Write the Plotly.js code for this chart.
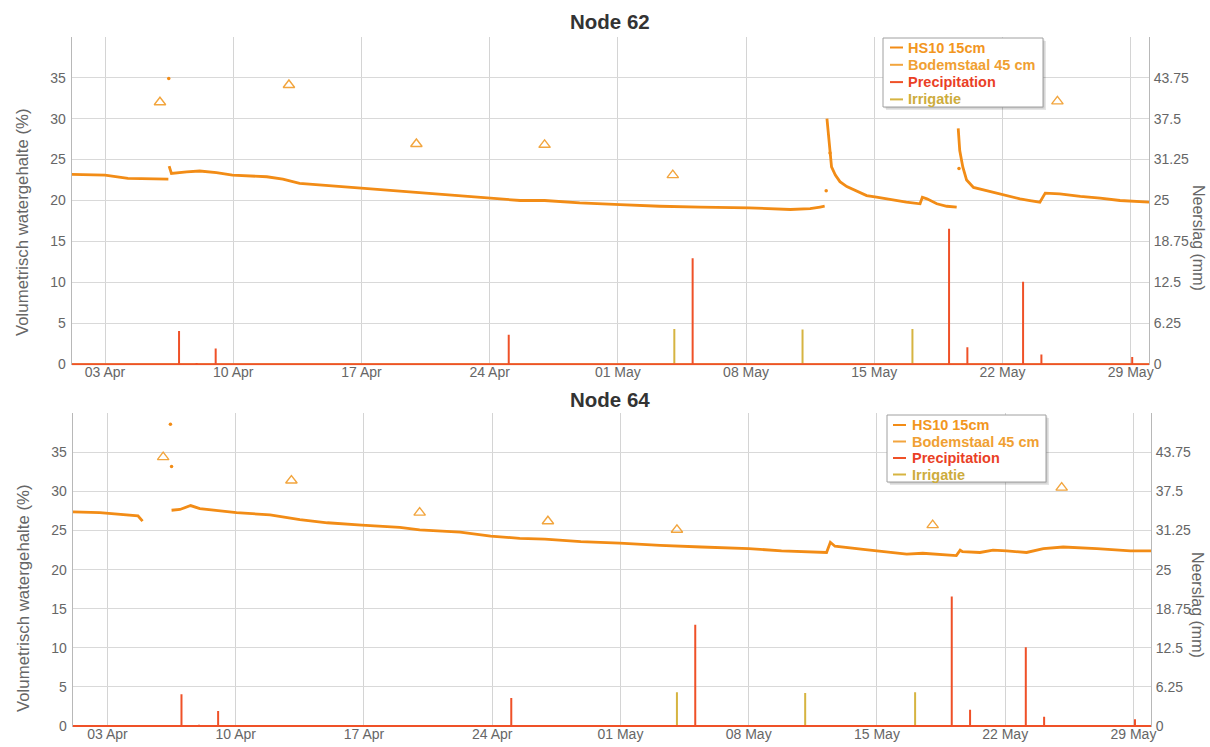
<!DOCTYPE html>
<html>
<head>
<meta charset="utf-8">
<script src="https://cdn.plot.ly/plotly-3.0.1.min.js"></script>
<style>html,body{margin:0;padding:0;background:#fff;}#chart{width:1210px;height:747px;}</style>
</head>
<body>
<div id="chart"></div>
<script>
// ---------------- DATA ----------------
// Node 62 - HS10 15cm (Volumetrisch watergehalte %)
const n62Time = ['2017-04-01 04:20','2017-04-03 00:00','2017-04-04 06:00','2017-04-06 11:00',null,
  '2017-04-06 12:00','2017-04-06 15:00','2017-04-07 11:00','2017-04-08 04:00','2017-04-09 02:00','2017-04-09 23:00',
  '2017-04-11 20:00','2017-04-12 17:00','2017-04-13 15:00','2017-04-17 01:00','2017-04-20 05:00','2017-04-22 09:00',
  '2017-04-24 02:00','2017-04-25 16:00','2017-04-27 00:00','2017-04-28 22:00','2017-05-01 03:00','2017-05-03 07:00',
  '2017-05-05 12:00','2017-05-08 04:00','2017-05-10 10:00','2017-05-11 12:00','2017-05-12 01:00','2017-05-12 07:00',null,
  '2017-05-12 10:00','2017-05-12 12:00','2017-05-12 16:00','2017-05-12 21:00','2017-05-13 03:00','2017-05-13 12:00',
  '2017-05-14 01:00','2017-05-14 14:00','2017-05-15 03:00','2017-05-15 21:00','2017-05-16 18:00','2017-05-17 12:00',
  '2017-05-17 15:00','2017-05-17 21:00','2017-05-18 10:00','2017-05-18 23:00','2017-05-19 12:00',null,
  '2017-05-19 14:00','2017-05-19 16:00','2017-05-19 20:00','2017-05-20 01:00','2017-05-20 10:00','2017-05-21 03:00',
  '2017-05-21 21:00','2017-05-22 14:00','2017-05-22 23:00','2017-05-23 12:00','2017-05-24 01:00','2017-05-24 08:00',
  '2017-05-25 03:00','2017-05-26 06:00','2017-05-27 08:00','2017-05-28 10:00','2017-05-30 00:00'];
const n62Hs10 = [23.2,23.1,22.7,22.6,null,
  24.2,23.3,23.5,23.6,23.4,23.1,
  22.9,22.6,22.1,21.5,21.0,20.6,
  20.3,20.0,20.0,19.7,19.5,19.3,
  19.2,19.1,18.9,19.0,19.2,19.3,null,
  30.0,28.2,24.1,23.1,22.3,21.7,
  21.2,20.6,20.4,20.1,19.8,19.6,
  20.4,20.2,19.6,19.3,19.2,null,
  28.8,26.1,24.1,22.5,21.6,21.2,
  20.8,20.4,20.2,20.0,19.8,20.9,
  20.8,20.5,20.3,20.0,19.8];
const n62OutTime = ['2017-04-06 11:30','2017-05-12 09:00','2017-05-12 14:00','2017-05-19 15:00'];
const n62OutVal  = [34.9, 21.2, 25.8, 23.9];
// Node 62 - Bodemstaal 45 cm
const n62SoilTime = ['2017-04-06 00:00','2017-04-13 01:00','2017-04-20 00:00','2017-04-27 00:00','2017-05-04 00:00','2017-05-25 00:00'];
const n62SoilVal  = [32.0, 34.1, 26.9, 26.8, 23.1, 32.1];

// Node 64 - HS10 15cm
const n64Time = ['2017-04-01 02:30','2017-04-02 14:00','2017-04-04 16:00','2017-04-04 22:00',null,
  '2017-04-06 12:00','2017-04-06 23:00','2017-04-07 13:00','2017-04-08 01:00','2017-04-10 01:00','2017-04-11 21:00',
  '2017-04-13 12:00','2017-04-15 00:00','2017-04-16 21:00','2017-04-18 23:00','2017-04-20 01:00','2017-04-22 06:00',
  '2017-04-23 22:00','2017-04-25 12:00','2017-04-26 21:00','2017-04-28 20:00','2017-04-30 23:00','2017-05-03 04:00',
  '2017-05-05 10:00','2017-05-08 00:00','2017-05-09 19:00','2017-05-11 12:00','2017-05-12 06:00','2017-05-12 11:00',
  '2017-05-12 17:00','2017-05-14 06:00','2017-05-15 04:00','2017-05-16 15:00','2017-05-17 12:00','2017-05-18 11:00',
  '2017-05-19 08:00','2017-05-19 13:00','2017-05-19 16:00','2017-05-20 15:00','2017-05-21 08:00','2017-05-22 02:00',
  '2017-05-23 04:00','2017-05-24 02:00','2017-05-25 04:00','2017-05-27 00:00','2017-05-28 20:00','2017-05-29 23:00'];
const n64Hs10 = [27.4,27.3,26.9,26.2,null,
  27.6,27.7,28.2,27.8,27.3,27.0,
  26.4,26.0,25.7,25.4,25.1,24.8,
  24.3,24.0,23.9,23.6,23.4,23.1,
  22.9,22.7,22.4,22.3,22.2,23.5,
  23.0,22.6,22.4,22.0,22.1,21.9,
  21.8,22.5,22.3,22.2,22.5,22.4,
  22.2,22.7,22.9,22.7,22.4,22.4];
const n64OutTime = ['2017-04-06 10:30','2017-04-06 12:00'];
const n64OutVal  = [38.6, 33.2];
// Node 64 - Bodemstaal 45 cm
const n64SoilTime = ['2017-04-06 01:00','2017-04-13 01:00','2017-04-20 01:00','2017-04-27 01:00','2017-05-04 02:00','2017-05-18 01:00','2017-05-25 02:00'];
const n64SoilVal  = [34.4, 31.4, 27.3, 26.2, 25.1, 25.7, 30.5];

// Precipitation and irrigation (mm), shared by both nodes
const rainTime = ['2017-04-07 01:00','2017-04-08 00:00','2017-04-09 01:00','2017-04-25 01:00','2017-05-05 02:00',
  '2017-05-19 02:00','2017-05-20 02:00','2017-05-23 03:00','2017-05-24 03:00','2017-05-29 02:00'];
const rainMm = [5.1, 0.2, 2.4, 4.5, 16.2, 20.7, 2.6, 12.6, 1.5, 1.1];
const irrTime = ['2017-05-04 02:00','2017-05-11 02:00','2017-05-17 02:00'];
const irrMm = [5.4, 5.3, 5.4];

const leftTicks = [0,5,10,15,20,25,30,35];
const rightTicks = [0,6.25,12.5,18.75,25,31.25,37.5,43.75];
const rightTickText = ['0','6.25','12.5','18.75','25','31.25','37.5','43.75'];
const seriesNames = ['HS10 15cm','Bodemstaal 45 cm','Precipitation','Irrigatie'];
const panelTitles = ['Node 62','Node 64'];

// ---------------- STYLE ----------------
const W = 1210, H = 747;
const FONT = 'Liberation Sans, Arial, sans-serif';
const C_HS = '#f28c16', C_SOIL = '#f2a53e', C_RAIN = '#ef5128', C_IRR = '#d6b441';
const LEG_COL = ['#f2961e','#f0a032','#ea3f26','#cdac3c'];
const px = x => x / W, py = y => 1 - y / H;

function spikes(times, vals, start, end) {
  const x = [start], y = [0];
  times.forEach((t, i) => { x.push(t, t, t); y.push(0, vals[i], 0); });
  x.push(end); y.push(0);
  return {x, y};
}

const panels = [
  {xa:'x', ya:'y', ya2:'y2', range:['2017-04-01 04:20','2017-05-30 00:00'],
   time:n62Time, hs:n62Hs10, ot:n62OutTime, ov:n62OutVal, st:n62SoilTime, sv:n62SoilVal},
  {xa:'x2', ya:'y3', ya2:'y4', range:['2017-04-01 02:30','2017-05-29 23:00'],
   time:n64Time, hs:n64Hs10, ot:n64OutTime, ov:n64OutVal, st:n64SoilTime, sv:n64SoilVal}
];

const traces = [];
panels.forEach(p => {
  const irr = spikes(irrTime, irrMm, p.range[0], p.range[1]);
  traces.push({x:irr.x, y:irr.y, xaxis:p.xa, yaxis:p.ya2, mode:'lines', line:{color:C_IRR, width:2},
    showlegend:false, hoverinfo:'skip'});
  const rain = spikes(rainTime, rainMm, p.range[0], p.range[1]);
  traces.push({x:rain.x, y:rain.y, xaxis:p.xa, yaxis:p.ya2, mode:'lines', line:{color:C_RAIN, width:2},
    showlegend:false, hoverinfo:'skip'});
  traces.push({x:p.time, y:p.hs, xaxis:p.xa, yaxis:p.ya, mode:'lines', connectgaps:false,
    line:{color:C_HS, width:2.8}, showlegend:false});
  traces.push({x:p.ot, y:p.ov, xaxis:p.xa, yaxis:p.ya, mode:'markers',
    marker:{color:C_HS, size:3.5}, showlegend:false});
  traces.push({x:p.st, y:p.sv, xaxis:p.xa, yaxis:p.ya, mode:'markers',
    marker:{symbol:'triangle-up-open', size:10, color:C_SOIL, line:{width:1.4, color:C_SOIL}}, showlegend:false});
});

const tickFont = {family:FONT, size:14, color:'#666'};
function xAxis(domain, anchor, range) {
  return {domain, anchor, type:'date', range, tick0:'2017-04-03', dtick:7*86400000, tickformat:'%d %b',
    showgrid:true, gridcolor:'#d4d4d4', gridwidth:1, showline:false, zeroline:false,
    ticks:'', tickfont:tickFont, ticklabelstandoff:-3, fixedrange:true};
}
function yLeft(domain, anchor) {
  return {domain, anchor, range:[-0.12,40], tickvals:leftTicks, showgrid:true, gridcolor:'#d9d9d9', gridwidth:1,
    showline:true, linecolor:'#b8b8b8', linewidth:1, zeroline:false, ticks:'', tickfont:tickFont, ticklabelstandoff:2};
}
function yRight(anchor, overlaying) {
  return {anchor, overlaying, side:'right', range:[-0.15,50], tickvals:rightTicks, ticktext:rightTickText,
    showgrid:false, showline:true, linecolor:'#b8b8b8', linewidth:1, zeroline:false, ticks:'', tickfont:tickFont, ticklabelstandoff:1};
}

const annotations = [];
const shapes = [];
// Titles
[[21, panelTitles[0]],[399, panelTitles[1]]].forEach(([y, t]) => {
  annotations.push({xref:'paper', yref:'paper', x:px(610), y:py(y), text:'<b>'+t+'</b>', showarrow:false,
    xanchor:'center', yanchor:'middle', font:{family:FONT, size:20.5, color:'#333'}});
});
// Axis titles
[[222, 238],[598, 605]].forEach(([yl, yr]) => {
  annotations.push({xref:'paper', yref:'paper', x:px(23), y:py(yl), text:'Volumetrisch watergehalte (%)', showarrow:false,
    textangle:-90, xanchor:'center', yanchor:'middle', font:{family:FONT, size:16.8, color:'#666'}});
  annotations.push({xref:'paper', yref:'paper', x:px(1198), y:py(yr), text:'Neerslag (mm)', showarrow:false,
    textangle:90, xanchor:'center', yanchor:'middle', font:{family:FONT, size:16, color:'#666'}});
});
// Legends (drawn manually)
[{l:883, t:38, r:1043, b:107, y0:47.5, dy:17.3, sx:890, tx:906},
 {l:887, t:415, r:1046, b:482, y0:425, dy:16.5, sx:893, tx:910}].forEach(L => {
  shapes.push({type:'rect', xref:'paper', yref:'paper', x0:px(L.l+3), x1:px(L.r+3), y0:py(L.b+3), y1:py(L.t+3),
    line:{width:0}, fillcolor:'rgba(0,0,0,0.10)', layer:'above'});
  shapes.push({type:'rect', xref:'paper', yref:'paper', x0:px(L.l+1.5), x1:px(L.r+1.5), y0:py(L.b+1.5), y1:py(L.t+1.5),
    line:{width:0}, fillcolor:'rgba(0,0,0,0.12)', layer:'above'});
  shapes.push({type:'rect', xref:'paper', yref:'paper', x0:px(L.l), x1:px(L.r), y0:py(L.b), y1:py(L.t),
    line:{width:1, color:'#a0a0a0'}, fillcolor:'#ffffff', layer:'above'});
  seriesNames.forEach((n, i) => {
    const y = L.y0 + i * L.dy;
    const lc = [C_HS, C_SOIL, C_RAIN, C_IRR][i];
    shapes.push({type:'line', xref:'paper', yref:'paper', x0:px(L.sx), x1:px(L.sx+13), y0:py(y), y1:py(y),
      line:{color:lc, width:2}, layer:'above'});
    annotations.push({xref:'paper', yref:'paper', x:px(L.tx), y:py(y), text:'<b>'+n+'</b>', showarrow:false,
      xanchor:'left', yanchor:'middle', font:{family:FONT, size:14.5, color:LEG_COL[i]}});
  });
});

const layout = {
  width:W, height:H, margin:{l:0, r:0, t:0, b:0}, paper_bgcolor:'#fff', plot_bgcolor:'#fff', showlegend:false,
  font:{family:FONT},
  xaxis: xAxis([px(71.7), px(1149)], 'y', panels[0].range),
  yaxis: yLeft([py(365.3), py(36.7)], 'x'),
  yaxis2: yRight('x', 'y'),
  xaxis2: xAxis([px(72.7), px(1151)], 'y3', panels[1].range),
  yaxis3: yLeft([py(727), py(413.3)], 'x2'),
  yaxis4: yRight('x2', 'y3'),
  annotations, shapes
};

Plotly.newPlot('chart', traces, layout, {staticPlot:true, displayModeBar:false});
</script>
</body>
</html>
